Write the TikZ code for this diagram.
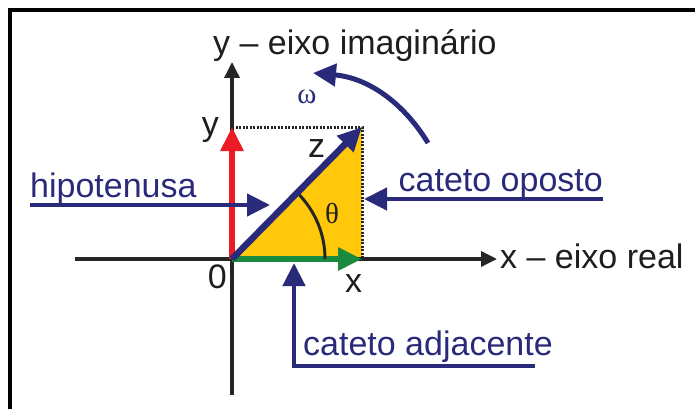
\documentclass[tikz,border=0pt]{standalone}
\usepackage{fontspec}
\setmainfont{Liberation Sans}
\newfontfamily\greekfont{Liberation Serif}
\usetikzlibrary{arrows.meta}
\definecolor{navyblue}{RGB}{42,42,122}
\definecolor{vecred}{RGB}{237,28,36}
\definecolor{vecgreen}{RGB}{26,138,62}
\definecolor{triyellow}{RGB}{255,200,10}
\definecolor{textgray}{RGB}{30,30,30}

\begin{document}
\begin{tikzpicture}[
  x=1pt, y=-1pt,
  lbl/.style={inner sep=0pt, font=\fontsize{34}{40}\selectfont, text=textgray},
  callout/.style={lbl, text=navyblue},
  greek/.style={inner sep=0pt, font=\greekfont\fontsize{29}{33}\selectfont},
  axis/.style={-{Triangle[length=16pt,width=15pt]}, line width=3.5pt, black!85},
  vec/.style={-{Triangle[length=24pt,width=22pt]}, line width=6.5pt},
  pointer/.style={-{Triangle[length=23pt,width=22pt]}, line width=4.5pt, navyblue},
  proj/.style={dash pattern=on 2pt off 1.5pt, line width=3pt, black!85}
]
\useasboundingbox (0,0) rectangle (695,409);
% frame
\draw[line width=4pt] (10,409) -- (10,10) -- (695,10);

\coordinate (O)      at (232,259);
\coordinate (Z)      at (362,127);
\coordinate (Yp)     at (232,127);
\coordinate (Xp)     at (362,259);
\coordinate (xstart) at (75,259);
\coordinate (xend)   at (497,259);
\coordinate (ystart) at (232,395);
\coordinate (yend)   at (232,62);

% triangle and projections
\fill[triyellow] (O) -- (Xp) -- (Z) -- cycle;
\draw[proj] (Yp) -- (Z) -- (Xp);

% axes and vectors
\draw[axis] (xstart) -- (xend);
\draw[axis] (ystart) -- (yend);
\draw[vec, vecred]   (O) -- (Yp);
\draw[vec, vecgreen] (O) -- (Xp);
\draw[line width=3pt, black!85] (O) ++(93,0) arc[start angle=0, end angle=-45, radius=93];
\draw[vec, navyblue] (O) -- (Z);

% labels
\node[lbl, anchor=base west] (title) at (213,55)  {y – eixo imaginário};
\node[lbl, anchor=base west] (xreal) at (500,268) {x – eixo real};
\node[lbl, anchor=base east] (ylab)  at (219,135) {y};
\node[lbl, anchor=base west] (zlab)  at (308,157) {z};
\node[lbl, anchor=base east] (olab)  at (227,288) {0};
\node[lbl, anchor=base west] (xlab)  at (345,292) {x};
\node[greek, text=textgray] (theta) at (332,214) {θ};
\node[greek, text=navyblue] (omega) at (307,97)  {ω};

% rotation
\coordinate (rotA) at (428,143);
\coordinate (rotB) at (313,73);
\draw[pointer, line width=5pt] (rotA) .. controls (405,105) and (370,78) .. (rotB);

% callouts
\coordinate (hipotip) at (270,205);
\coordinate (opostip) at (364,199);
\coordinate (adjend)  at (535,366);
\coordinate (adjtip)  at (294,263);
\node[callout, anchor=south west] (hipo)  at (30,205)  {hipotenusa};
\node[callout, anchor=south east] (opost) at (603,199) {cateto oposto};
\node[callout, anchor=south west] (adj)   at (303,363) {cateto adjacente};
\draw[pointer] (hipo.south west) -- (hipotip);
\draw[pointer] (opost.south east) -- (opostip);
\draw[pointer] (adjend) -| (adjtip);
\end{tikzpicture}
\end{document}
